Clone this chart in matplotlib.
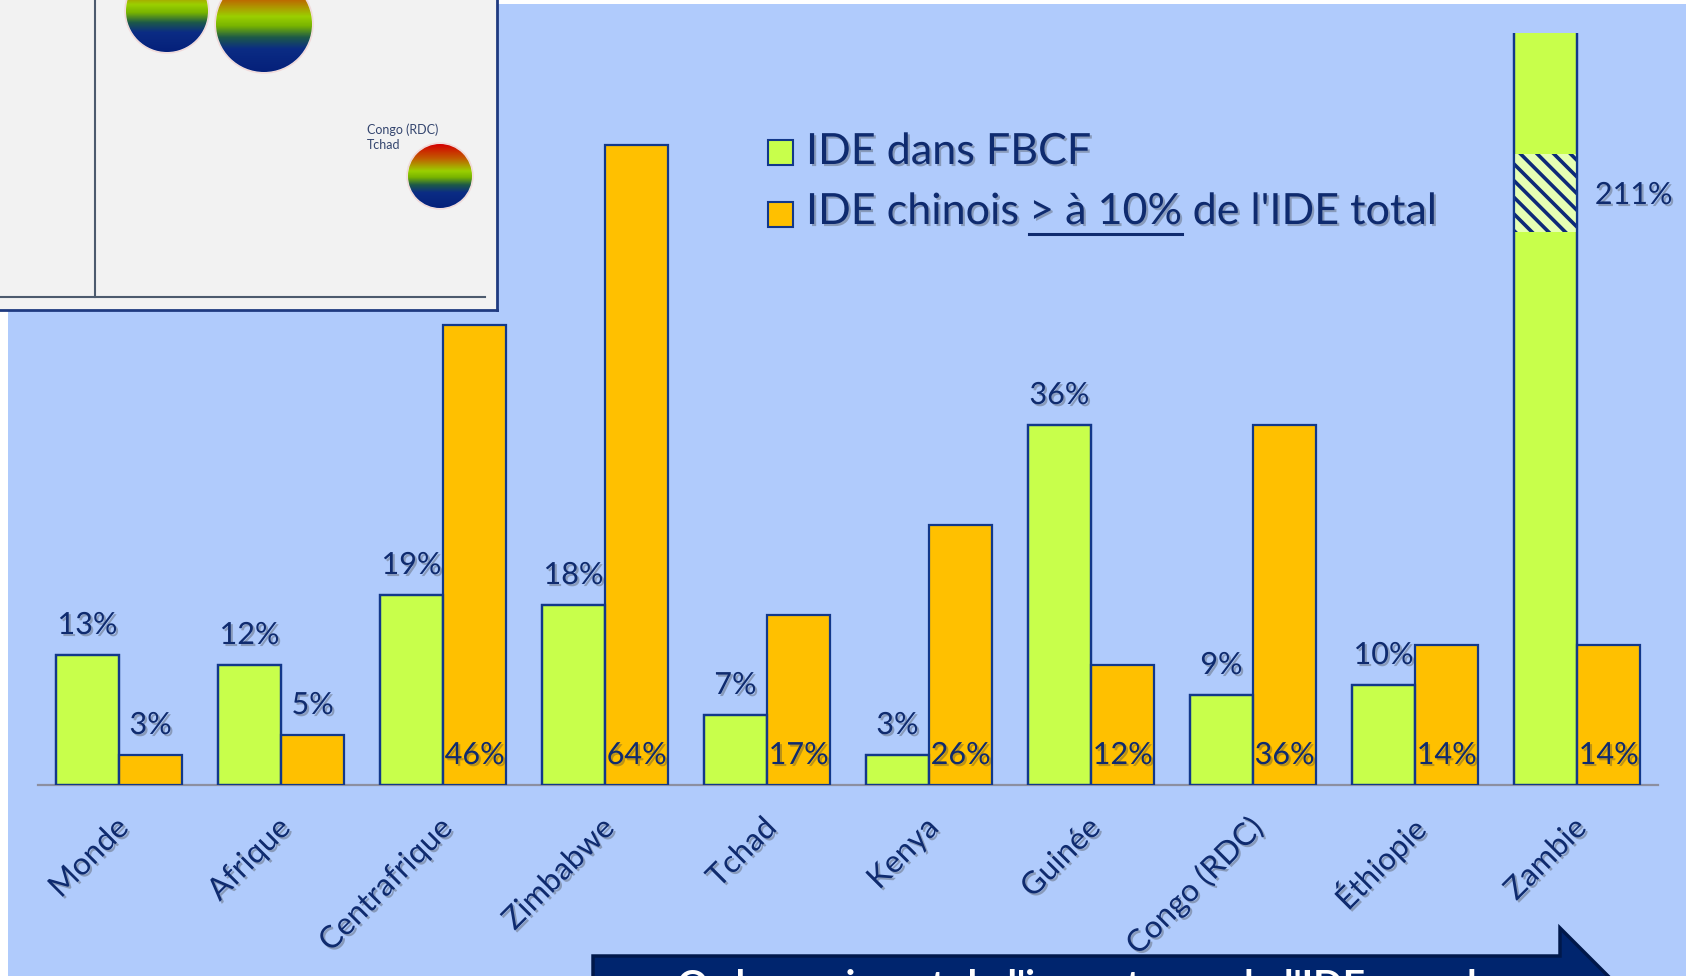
import numpy as np
import matplotlib
matplotlib.use("Agg")
import matplotlib.pyplot as plt
import matplotlib.patheffects as pe
from matplotlib.patches import Rectangle, Circle, Polygon
from matplotlib.colors import LinearSegmentedColormap

plt.rcParams['font.family'] = ['Lato', 'DejaVu Sans']
plt.rcParams['hatch.linewidth'] = 2.6

# data
pays = ["Monde", "Afrique", "Centrafrique", "Zimbabwe", "Tchad", "Kenya",
        "Guinée", "Congo (RDC)", "Éthiopie", "Zambie"]
ide_fbcf = [13, 12, 19, 18, 7, 3, 36, 9, 10, 211]
ide_chine = [3, 5, 46, 64, 17, 26, 12, 36, 14, 14]

# inset bubble chart (partly visible)
bulle_x = [167, 264, 440]
bulle_y = [11, 24, 176]
bulle_r = [41, 48, 32]
bulle_label = "Congo (RDC)\nTchad"

W, H = 1693, 976
navy = "#0f2b6f"
vert = "#c8ff4b"
orange = "#ffc000"
bord = "#12388a"
shadow = [pe.SimplePatchShadow(offset=(1.5, -1.5), shadow_rgbFace="#404040", alpha=0.35), pe.Normal()]


def fx(x):
    return x / W


def fy(y):
    return 1 - y / H


fig = plt.figure(figsize=(W / 100, H / 100), dpi=100)
fig.patch.set_facecolor("white")

# blue slide panel
fig.add_artist(Rectangle((fx(8), 0), fx(1686) - fx(8), fy(4), transform=fig.transFigure,
                         facecolor="#b0cbfc", edgecolor="none", zorder=0))

# main bar chart
ax = fig.add_axes([fx(38), fy(785), fx(1658) - fx(38), (785 - 33) / H])
ax.set_facecolor("none")
x = np.arange(len(pays))
w = 0.39
ax.bar(x - w / 2, ide_fbcf, w, color=vert, edgecolor=bord, linewidth=1.6, zorder=2)
ax.bar(x + w / 2, ide_chine, w, color=orange, edgecolor=bord, linewidth=1.6, zorder=2)

# hatched break on the Zambie bar
ax.add_patch(Rectangle((x[-1] - w, 55.3), w, 7.8, facecolor="#e6ffb4", edgecolor="#0d2a78",
                       hatch="\\\\", linewidth=0, zorder=2.5))
ax.bar(x - w / 2, ide_fbcf, w, fill=False, edgecolor=bord, linewidth=1.6, zorder=3)

ax.set_xlim(-0.5, len(pays) - 0.5)
ax.set_ylim(0, 75.2)
for s in ["left", "right", "top"]:
    ax.spines[s].set_visible(False)
ax.spines["bottom"].set_color("#8c8fa0")
ax.spines["bottom"].set_linewidth(1.6)
ax.spines["bottom"].set_zorder(1)
ax.set_xticks([])
ax.set_yticks([])

lab = dict(color=navy, fontsize=22, path_effects=shadow, zorder=4)
for i in range(len(pays)):
    v = ide_fbcf[i]
    if v > 75:
        ax.text(x[i] + 0.11, 59, f"{v}%", ha="left", va="center", **lab)
    else:
        ax.text(x[i] - w / 2, v + 2.1, f"{v}%", ha="center", va="baseline", **lab)
    c = ide_chine[i]
    if c < 10:
        ax.text(x[i] + w / 2, c + 2.1, f"{c}%", ha="center", va="baseline", **lab)
    else:
        ax.text(x[i] + w / 2, 2.1, f"{c}%", ha="center", va="baseline", **lab)
    ax.text(x[i] + 0.03, -3.8, pays[i], rotation=45, rotation_mode="anchor",
            ha="right", va="center", clip_on=False,
            **{**lab, "fontsize": 22.5})

# legend
leg = dict(color=navy, fontsize=31, va="center", path_effects=shadow)
fig.add_artist(Rectangle((fx(768), fy(165)), fx(793) - fx(768), fy(140) - fy(165),
                         transform=fig.transFigure, facecolor=vert, edgecolor=bord, linewidth=1.5))
fig.add_artist(Rectangle((fx(768), fy(227)), fx(793) - fx(768), fy(202) - fy(227),
                         transform=fig.transFigure, facecolor=orange, edgecolor=bord, linewidth=1.5))
fig.text(fx(806), fy(152), "IDE dans FBCF", **leg)

r = fig.canvas.get_renderer()
t1 = fig.text(fx(806), fy(212), "IDE chinois", **leg)
tmp1 = fig.text(0, 0, "a a", fontsize=31)
tmp2 = fig.text(0, 0, "aa", fontsize=31)
sp = tmp1.get_window_extent(r).width - tmp2.get_window_extent(r).width
tmp1.remove()
tmp2.remove()
b1 = t1.get_window_extent(r)
x2 = b1.x1 + sp
t2 = fig.text(x2 / W, fy(212), "> à 10%", **leg)
b2 = t2.get_window_extent(r)
t3 = fig.text((b2.x1 + sp) / W, fy(212), "de l'IDE total", **leg)
fig.add_artist(plt.Line2D([b2.x0 / W, b2.x1 / W], [fy(234), fy(234)], color=navy,
                          linewidth=2.2, transform=fig.transFigure))

# arrow at the bottom
fleche = [(593, 956), (1560, 956), (1560, 928), (1660, 1028), (1560, 1128), (1560, 1100), (593, 1100)]
fig.add_artist(Polygon([(fx(a), fy(b)) for a, b in fleche], closed=True, transform=fig.transFigure,
                       facecolor="#00256e", edgecolor="#00184a", linewidth=2.5, zorder=5))
fig.text(fx(677), fy(969), "Ordre croissant de l'importance de l'IDE en valeur", color="white",
         fontsize=28, fontweight="bold", va="top", ha="left", zorder=6)

# inset (screenshot of another chart)
ins = fig.add_axes([0, fy(310), fx(497), 310 / H], zorder=10)
ins.set_facecolor("#f2f2f2")
ins.set_xticks([])
ins.set_yticks([])
ins.spines["left"].set_visible(False)
ins.spines["top"].set_visible(False)
ins.spines["right"].set_color("#1f3a80")
ins.spines["bottom"].set_color("#1f3a80")
ins.spines["right"].set_linewidth(2)
ins.spines["bottom"].set_linewidth(2)
ins.plot([95, 95], [0, 297], color="#4d5b6e", linewidth=1.5)
ins.plot([0, 485], [297, 297], color="#4d5b6e", linewidth=1.5)

cmap = LinearSegmentedColormap.from_list(
    "bulle", [(0, "#d40000"), (0.22, "#c25a00"), (0.42, "#9bd000"), (0.52, "#78b400"),
              (0.64, "#1d5a48"), (0.76, "#0b2c84"), (1, "#05207a")])
grad = np.linspace(0, 1, 200).reshape(-1, 1)
for bx, by, br in zip(bulle_x, bulle_y, bulle_r):
    im = ins.imshow(grad, cmap=cmap, extent=(bx - br, bx + br, by + br, by - br),
                    aspect="auto", zorder=3)
    c = Circle((bx, by), br, transform=ins.transData)
    im.set_clip_path(c)
    ins.add_patch(Circle((bx, by), br + 1, facecolor="none", edgecolor="#f0c8c8",
                         linewidth=1, alpha=0.6, zorder=2))
ins.set_xlim(0, 497)
ins.set_ylim(310, 0)
ins.text(367, 137, bulle_label, fontsize=9, color="#34456e", va="center", ha="left",
         linespacing=1.3)

fig.savefig("out.png", dpi=100)
